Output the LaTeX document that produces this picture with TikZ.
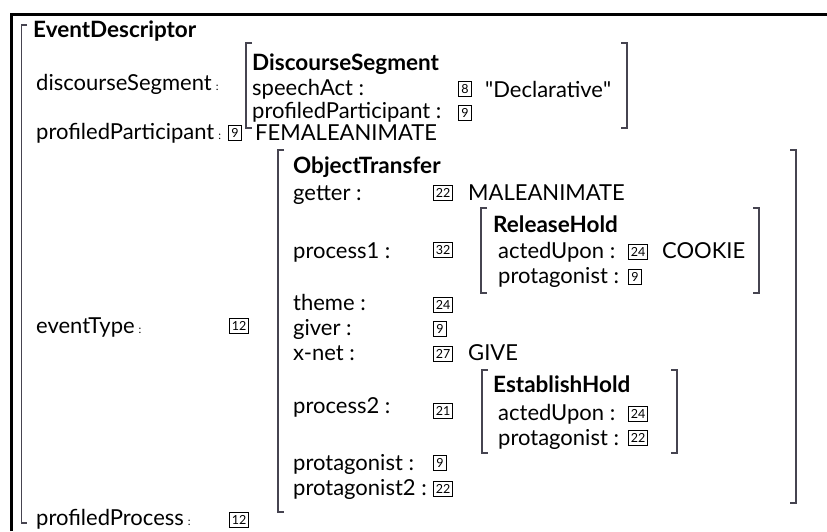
\documentclass[tikz,border=0pt]{standalone}
\usepackage{fontspec}
\setmainfont{Lato}
% Lato without TeX ligatures, for straight quotes
\newfontfamily\plainlato{Lato}
\definecolor{brk}{RGB}{70,68,80}
% outer feature label with its small colon
\newcommand{\olbl}[1]{#1\hspace{4pt}{\fontsize{11}{11}\selectfont:}}
\newcommand{\sq}{{\plainlato"}}
\begin{document}
\begin{tikzpicture}[x=1pt,y=-1pt,
  lbl/.style={anchor=base west, inner sep=0pt, font=\fontsize{22}{25}\selectfont},
  typ/.style={anchor=base west, inner sep=0pt, font=\fontsize{22.5}{25}\selectfont\bfseries},
  tag/.style={draw, line width=0.8pt, inner xsep=2.6pt, inner ysep=0pt, minimum height=15pt,
              minimum width=13pt, font=\fontsize{12.5}{13}\selectfont},
  brk/.style={draw=brk, line width=1.4pt}
]
\useasboundingbox (0,0) rectangle (827,531);
% frame
\draw[line width=3pt] (11.5,531) -- (11.5,14) -- (827,14);

% brackets: left ones open right, right ones open left
\draw[brk] (27,25) -- (21.5,25) -- (21.5,523) -- (27,523);
\draw[brk] (252,43) -- (246,43) -- (246,128) -- (252,128);
\draw[brk] (621,43) -- (627,43) -- (627,128) -- (621,128);
\draw[brk] (284,150) -- (278,150) -- (278,512) -- (284,512);
\draw[brk] (790,150) -- (796,150) -- (796,503) -- (790,503);
\draw[brk] (487,208) -- (481,208) -- (481,293) -- (487,293);
\draw[brk] (753,208) -- (759,208) -- (759,293) -- (753,293);
\draw[brk] (488,370) -- (482,370) -- (482,453) -- (488,453);
\draw[brk] (671,370) -- (677,370) -- (677,453) -- (671,453);

% EventDescriptor
\node[typ] (ed) at (33,37) {EventDescriptor};
\node[lbl] (dsl) at (36,90) {\olbl{discourseSegment}};
\node[lbl] (ppl) at (36,139) {\olbl{profiledParticipant}};
\node[tag] (pp9) at (235,133) {9};
\node[lbl] (fem) at (255,140) {FEMALEANIMATE};
\node[lbl] (etl) at (36,333) {\olbl{eventType}};
\node[tag] (et12) at (239,326) {12};
\node[lbl] (prl) at (36,525) {\olbl{profiledProcess}};
\node[tag] (pr12) at (239,520) {12};

% DiscourseSegment
\node[typ] (ds) at (252,70) {DiscourseSegment};
\node[lbl] (sal) at (252,95) {speechAct :};
\node[tag] (sa8) at (465,89) {8};
\node[lbl] (decl) at (485,97) {\sq Declarative\sq};
\node[lbl] (dppl) at (252,118) {profiledParticipant :};
\node[tag] (dpp9) at (465,113) {9};

% ObjectTransfer
\node[typ] (ot) at (293,173) {ObjectTransfer};
\node[lbl] (gtl) at (293,200) {getter :};
\node[tag] (gt22) at (443,193) {22};
\node[lbl] (male) at (468,200) {MALEANIMATE};
\node[lbl] (p1l) at (293,258) {process1 :};
\node[tag] (p132) at (443,250) {32};
\node[lbl] (thl) at (293,310) {theme :};
\node[tag] (th24) at (443,305) {24};
\node[lbl] (gvl) at (293,335) {giver :};
\node[tag] (gv9) at (440,329) {9};
\node[lbl] (xnl) at (293,360) {x-net :};
\node[tag] (xn27) at (443,354) {27};
\node[lbl] (give) at (468,360) {GIVE};
\node[lbl] (p2l) at (293,413) {process2 :};
\node[tag] (p221) at (443,411) {21};
\node[lbl] (prtl) at (293,470) {protagonist :};
\node[tag] (prt9) at (440,463) {9};
\node[lbl] (prt2l) at (293,495) {protagonist2 :};
\node[tag] (prt222) at (443,489) {22};

% ReleaseHold
\node[typ] (rh) at (493,232) {ReleaseHold};
\node[lbl] (rhal) at (498,258) {actedUpon :};
\node[tag] (rha24) at (638,252) {24};
\node[lbl] (cookie) at (662,258) {COOKIE};
\node[lbl] (rhpl) at (498,283) {protagonist :};
\node[tag] (rhp9) at (635,277) {9};

% EstablishHold
\node[typ] (eh) at (493,392) {EstablishHold};
\node[lbl] (ehal) at (498,420) {actedUpon :};
\node[tag] (eha24) at (638,414) {24};
\node[lbl] (ehpl) at (498,445) {protagonist :};
\node[tag] (ehp22) at (638,438) {22};
\end{tikzpicture}
\end{document}
